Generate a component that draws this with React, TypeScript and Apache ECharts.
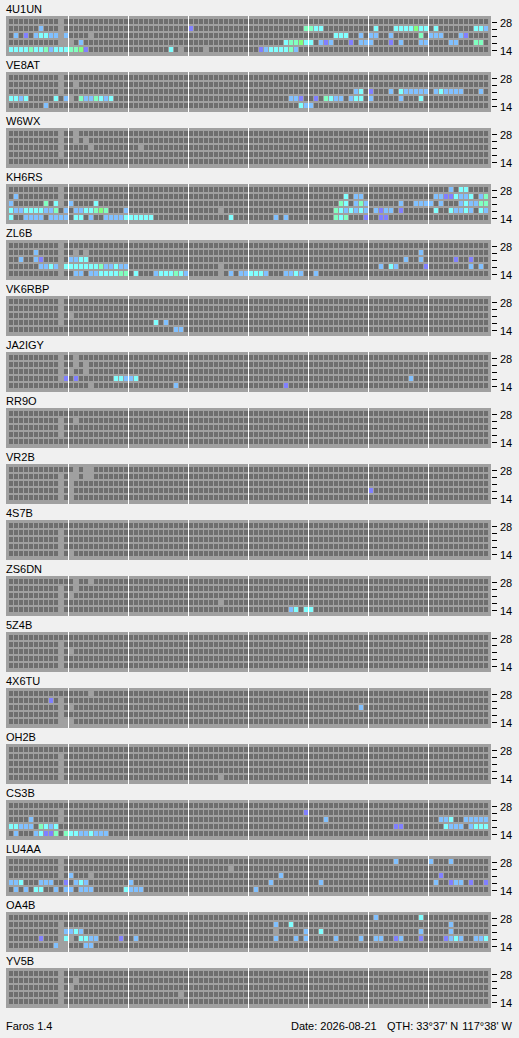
import React, { useEffect, useRef } from "react";
import * as echarts from "echarts";

const FONT = "'Liberation Sans', Arial, sans-serif";

const STATIONS = ["4U1UN", "VE8AT", "W6WX", "KH6RS", "ZL6B", "VK6RBP", "JA2IGY", "RR9O", "VR2B", "4S7B", "ZS6DN", "5Z4B", "4X6TU", "OH2B", "CS3B", "LU4AA", "OA4B", "YV5B"];
// bands bottom -> top (category order of the y axis)
const BANDS = ["14", "18", "21", "24", "28"];
const BAND_LABELS = ["14", "28"];
const SLOTS = 96;
const HOUR_MARKS = [12, 24, 36, 48, 60, 72, 84];

const FOOTER_APP = "Faros 1.4";
const FOOTER_DATE = "Date: 2026-08-21";
const FOOTER_QTH = "QTH: 33°37' N";
const FOOTER_LON = "117°38' W";

// Cell codes: . empty, g no data, c cyan, b light blue, v violet, a aquamarine, G green
const CODES = [".", "g", "c", "b", "v", "a", "G"];
const CODE_COLORS = ["#6e6e6e", "#a0a0a0", "#80ffff", "#80c0ff", "#8080ff", "#80ffc0", "#80ff80"];

// Rows listed top (28) -> bottom (14); tokens "col[-col]code"
const R_4U1UN = [
  "10g",
  "6b 10g 36v 59-60a 61-62c 73c 77-80c 81G 82-83c 85c 93-94c 95b",
  "1b 3v 5b 6-7c 8-9b 10g 11b 16g 65-67c 70b 72-73b 76b 82a 84-86b 90b 91v",
  "10-12g 14b 55c 56-57a 58G 59-60c 62b 63v 64b 68v 70-72b 76v 78b 82-83b 88-89b 93-94a",
  "0-3c 4a 5-6c 7a 8b 9-11c 12-13a 14G 15v 32c 34g 39g 50v 51b 52-55c 56a 57b",
];
const R_VE8AT = [
  "10g",
  "10g 13g",
  "10g 69b 70c 72v 76b 78c 79-83b 85b 86c 87-90b 94b",
  "0-1c 2b 3c 9c 11b 12g 14a 15-16b 17a 18c 19b 20c 56-57b 58v 61v 63a 64c 65-66b 68b 69-70c 72b 78b 82c",
  "7b 58c 59-60b",
];
const R_W6WX = ["10g 13g", "10g 13g 15g", "10g 16g 26g", "10g", ""];
const R_KH6RS = [
  "10g 88b 90-91c",
  "1b 10g 67c 69-70b 85-86b 87-88v 89c 90-91b 92c 94b 95a",
  "0b 7a 9c 10g 12b 17c 66a 67c 69b 70a 71b 78b 81-84b 86b 90b 91c 92-93b 94-95a",
  "0c 1-2b 3-6c 7-8b 9a 11b 13-14b 15-16c 17a 18G 19a 23b 42g 65a 66c 67b 68c 69b 70c 71b 73b 74v 75-76b 78v 85c 88c 89-90b 91c 92b 94c 95b",
  "0c 3-6b 8-11b 13-14c 16b 19-22b 23-28c 44c 53b 55b 65a 66c 67a 71v 74-75v",
];
const R_ZL6B = [
  "10g",
  "5b 10g 13g 15g 82b",
  "2b 5b 6v 10g 12-13b 14-15c 79b 82b 89v 92v",
  "6-7b 8c 9b 10g 11-17c 18a 19-20b 21c 22-23b 42g 74b 76c 77b 83v 92b 94b",
  "10g 13-14b 16-17b 18-21c 22-23a 25c 29b 30-32c 33a 34c 35b 42g 44b 46-47b 48-50c 51b 55-56b 57c 58b 61b",
];
const R_VK6RBP = ["10g", "10g", "10g 12g", "10g 29c 31b", "33-34b"];
const R_JA2IGY = ["10g 13g", "10g 13g 15g", "10g 12g 15g", "10g 11v 13v 21-22c 23-24b 25c 80b", "16g 33b 55v"];
const R_RR9O = ["", "10g 13g", "10g", "10g", ""];
const R_VR2B = ["13g 15-16g", "10g 12-13g 15-16g", "10g 12g", "10g 12g 72v", "10g 12g"];
const R_4S7B = ["", "10g", "10g", "10g", "10g 12g"];
const R_ZS6DN = ["13g 16g", "10g 13g", "10g 12g", "10g 42g", "10g 56b 57c 59-60c"];
const R_5Z4B = ["", "10g", "10g 12g", "10g", "10g"];
const R_4X6TU = ["16g", "8v 10g", "10g 12g 70b", "10g", "10-12g"];
const R_OH2B = ["", "10g", "10g", "10g", "10g 42g"];
const R_CS3B = [
  "",
  "10g 59v",
  "4b 10g 63b 86-87b 88c 91-95b",
  "0-1c 2-4b 6a 7c 8b 9c 77-78v 87c 88-90b 92b 93-95c",
  "1b 5b 6c 7-8v 9a 11a 12-13c 14-15b 16c 17-19b",
];
const R_LU4AA = [
  "10g 77b 84b 88b",
  "10g 44g",
  "10g 12b 16g 54b 86v",
  "0-1b 2c 6-8b 11v 13b 14c 15b 24b 52b 62b 85b 88v 89-90b 92v 95v",
  "1b 3b 5-6c 9b 11-12b 14-16b 23c 24-26b 49b",
];
const R_OA4B = [
  "73b 82c",
  "10g 53b 56c 88b",
  "10g 11-12b 13c 14b 53g 59b 62c 82b 88b",
  "6v 10g 11c 12g 14-15c 16-17b 22v 25b 53b 57b 59b 65b 70b 73-74b 77v 78b 82v 87v 88b 89c 90b 93-94b 95c",
  "9b 10-11g 15-16b",
];
const R_YV5B = ["10g", "10g 13g", "10g 12g", "10g 34g", "10g"];

const STATION_ROWS = [R_4U1UN, R_VE8AT, R_W6WX, R_KH6RS, R_ZL6B, R_VK6RBP, R_JA2IGY, R_RR9O, R_VR2B, R_4S7B, R_ZS6DN, R_5Z4B, R_4X6TU, R_OH2B, R_CS3B, R_LU4AA, R_OA4B, R_YV5B];

function parseRow(spec: string): number[] {
  const row = new Array(SLOTS).fill(0);
  spec.split(/\s+/).filter(Boolean).forEach((tok) => {
    const m = tok.match(/^(\d+)(?:-(\d+))?([a-zA-Z])$/);
    if (!m) return;
    const a = +m[1];
    const b = m[2] ? +m[2] : a;
    const code = CODES.indexOf(m[3]);
    for (let c = a; c <= b; c++) row[c] = code < 0 ? 0 : code;
  });
  return row;
}

function buildCells(rows: string[]): number[][] {
  const out: number[][] = [];
  rows.forEach((spec, t) => {
    const cat = BANDS.length - 1 - t;
    parseRow(spec).forEach((code, c) => out.push([c, cat, code]));
  });
  return out;
}

const PITCH = 56;

function buildOption(): any {
  const grid: any[] = [];
  const xAxis: any[] = [];
  const yAxis: any[] = [];
  const series: any[] = [];
  const title: any[] = [];
  STATIONS.forEach((name, i) => {
    grid.push({ left: 8, top: 19 + PITCH * i, width: 480, height: 35, show: false });
    xAxis.push({ type: "value", gridIndex: i, min: 0, max: SLOTS, show: false });
    yAxis.push({
      type: "category",
      gridIndex: i,
      data: BANDS,
      position: "right",
      offset: 4,
      axisLine: { show: false },
      axisTick: { show: false },
      axisLabel: {
        show: true,
        interval: 0,
        margin: 8,
        color: "#000",
        fontSize: 11,
        fontFamily: FONT,
        formatter: (v: string) => (BAND_LABELS.indexOf(v) >= 0 ? v : ""),
      },
      splitLine: { show: false },
    });
    title.push({
      text: name,
      left: 6,
      top: 3 + PITCH * i,
      padding: 0,
      textStyle: { fontSize: 11, fontWeight: "normal", color: "#000", fontFamily: FONT },
    });
    // panel frame
    series.push({
      type: "custom",
      xAxisIndex: i,
      yAxisIndex: i,
      silent: true,
      z: 1,
      data: [[0, 0]],
      renderItem: (params: any, api: any) => {
        const cs = params.coordSys;
        return {
          type: "rect",
          shape: { x: cs.x - 2, y: cs.y - 3, width: cs.width + 5, height: cs.height + 5 },
          style: { fill: "#a0a0a0" },
        };
      },
    });
    // cells
    series.push({
      type: "custom",
      xAxisIndex: i,
      yAxisIndex: i,
      silent: true,
      z: 2,
      data: buildCells(STATION_ROWS[i]),
      renderItem: (params: any, api: any) => {
        const c = api.value(0);
        const k = api.value(1);
        const s = api.value(2);
        const p = api.coord([c, k]);
        const sz = api.size([1, 1]);
        return {
          type: "rect",
          shape: { x: p[0] + 1, y: p[1] - sz[1] / 2, width: sz[0] - 1, height: sz[1] - 2 },
          style: { fill: CODE_COLORS[s] },
        };
      },
    });
    // 3-hour separators
    series.push({
      type: "custom",
      xAxisIndex: i,
      yAxisIndex: i,
      silent: true,
      z: 3,
      data: HOUR_MARKS.map((h) => [h, 0]),
      renderItem: (params: any, api: any) => {
        const cs = params.coordSys;
        const p = api.coord([api.value(0), 0]);
        return {
          type: "rect",
          shape: { x: p[0], y: cs.y - 3, width: 1, height: cs.height + 5 },
          style: { fill: "#ffffff" },
        };
      },
    });
    // band tick dashes on the right
    series.push({
      type: "custom",
      xAxisIndex: i,
      yAxisIndex: i,
      silent: true,
      z: 3,
      data: BANDS.map((_, k) => [SLOTS, k]),
      renderItem: (params: any, api: any) => {
        const p = api.coord([api.value(0), api.value(1)]);
        return {
          type: "rect",
          shape: { x: p[0] + 4, y: Math.floor(p[1]), width: 5, height: 1 },
          style: { fill: "#000000" },
        };
      },
    });
  });
  const footStyle = { fontSize: 11, fontWeight: "normal", color: "#000", fontFamily: FONT };
  title.push({ text: FOOTER_APP, left: 6, top: 1020, padding: 0, textStyle: footStyle });
  title.push({ text: FOOTER_DATE, left: 291, top: 1020, padding: 0, textStyle: footStyle });
  title.push({ text: FOOTER_QTH, left: 387, top: 1020, padding: 0, textStyle: footStyle });
  title.push({ text: FOOTER_LON, right: 7, top: 1020, padding: 0, textStyle: footStyle });

  return {
    animation: false,
    backgroundColor: "#f0f0f0",
    textStyle: { fontFamily: FONT },
    title,
    grid,
    xAxis,
    yAxis,
    series,
  };
}

export default function App() {
  const ref = useRef<HTMLDivElement>(null);
  useEffect(() => {
    if (!ref.current) return;
    const chart = echarts.init(ref.current, null, { renderer: "svg" });
    chart.setOption(buildOption());
    return () => chart.dispose();
  }, []);
  return (
    <div
      ref={ref}
      style={{ position: "absolute", left: 0, top: 0, width: 519, height: 1038, background: "#f0f0f0" }}
    />
  );
}
